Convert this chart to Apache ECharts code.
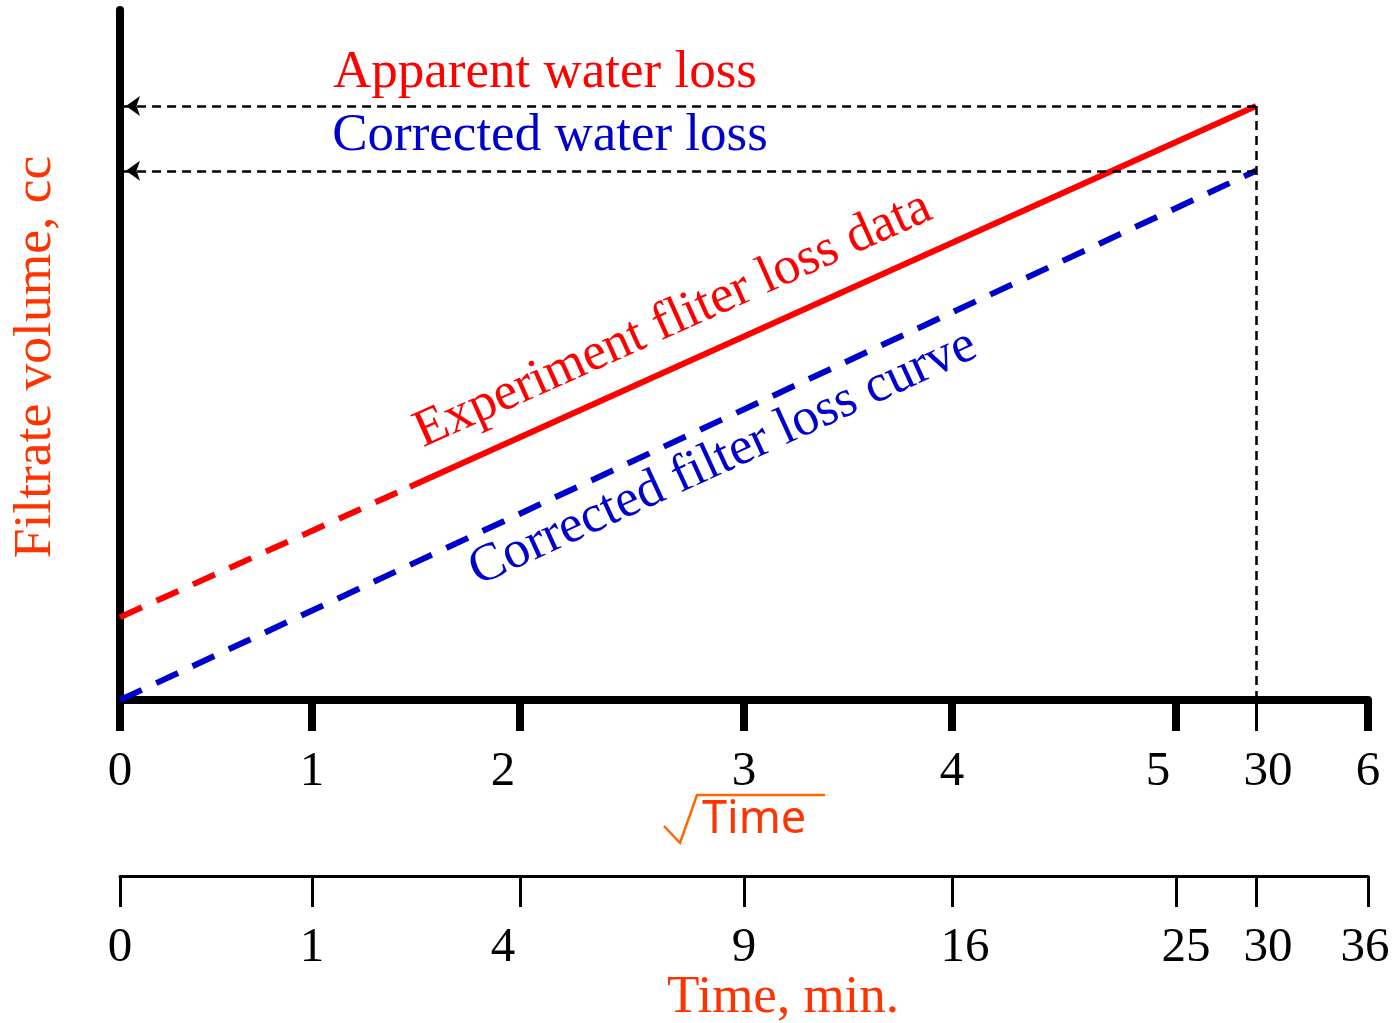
<!DOCTYPE html>
<html><head><meta charset="utf-8">
<script src="https://cdn.jsdelivr.net/npm/echarts@6/dist/echarts.min.js"></script>
<style>html,body{margin:0;padding:0;background:#fff}#c{width:1394px;height:1023px}</style>
</head><body><div id="c"></div>
<script>
// ---- data ----
// tick positions on the sqrt(time) axis (as drawn), 30-min tick separate
const majorTickPos = [0, 0.923, 1.923, 3.0, 4.0, 5.077, 6.0];
const thirtyMinPos = [5.462];
const tickPos = [0, 0.923, 1.923, 3.0, 4.0, 5.077, 5.462, 6.0];
const sqrtLabels = ['0', '1', '2', '3', '4', '5', '30', '6'];
const sqrtLabelPos = [0, 0.923, 1.841, 3.0, 4.0, 4.99, 5.519, 6.0];
const timeLabels = ['0', '1', '4', '9', '16', '25', '30', '36'];
const timeLabelPos = [0, 0.923, 1.841, 3.0, 4.063, 5.125, 5.519, 5.986];
// series: [sqrt(time), filtrate volume]
const experimentExtrapolated = [[0, 1.20], [1.394, 3.09]];
const experimentMeasured = [[1.394, 3.09], [5.462, 8.61]];
const correctedCurve = [[0, 0.0], [5.462, 7.67]];

const SERIF = "'Liberation Serif', 'Times New Roman', serif";
const RED = '#FF0000', BLUE = '#0000CC', ORANGE = '#FF3300';

function findIdx(arr, v) {
  for (let i = 0; i < arr.length; i++) if (Math.abs(arr[i] - v) < 1e-6) return i;
  return -1;
}
const apparentEnd = experimentMeasured[experimentMeasured.length - 1];
const correctedEnd = correctedCurve[correctedCurve.length - 1];

const chart = echarts.init(document.getElementById('c'), null, { renderer: 'canvas' });
const dashBlack = { color: '#000', width: 2.5, type: [9, 6] };

chart.setOption({
  animation: false,
  backgroundColor: '#fff',
  grid: { left: 120, right: 26, top: 10, bottom: 323, outerBoundsMode: 'none' },
  xAxis: [
    { // main sqrt(time) axis
      type: 'value', min: 0, max: 6, position: 'bottom', offset: 0,
      axisLine: { show: true, onZero: false, lineStyle: { color: '#000', width: 8 } },
      axisTick: { show: true, customValues: majorTickPos, length: 31, lineStyle: { color: '#000', width: 8 } },
      axisLabel: {
        show: true, customValues: sqrtLabelPos, margin: 48, color: '#000',
        fontFamily: SERIF, fontSize: 49, showMinLabel: true, showMaxLabel: true,
        formatter: v => { const i = findIdx(sqrtLabelPos, v); return i >= 0 ? sqrtLabels[i] : ''; }
      },
      splitLine: { show: false }
    },
    { // thin 30-minute tick on the main axis
      type: 'value', min: 0, max: 6, position: 'bottom', offset: 0,
      axisLine: { show: false, onZero: false },
      axisTick: { show: true, customValues: thirtyMinPos, length: 31, lineStyle: { color: '#000', width: 3 } },
      axisLabel: { show: false },
      splitLine: { show: false }
    },
    { // lower time axis
      type: 'value', min: 0, max: 6, position: 'bottom', offset: 176,
      axisLine: { show: true, onZero: false, lineStyle: { color: '#000', width: 3 } },
      axisTick: { show: true, customValues: tickPos, length: 31, lineStyle: { color: '#000', width: 3 } },
      axisLabel: {
        show: true, customValues: timeLabelPos, margin: 48, color: '#000',
        fontFamily: SERIF, fontSize: 49, showMinLabel: true, showMaxLabel: true,
        formatter: v => { const i = findIdx(timeLabelPos, v); return i >= 0 ? timeLabels[i] : ''; }
      },
      splitLine: { show: false }
    }
  ],
  yAxis: {
    type: 'value', min: 0, max: 10,
    axisLine: { show: true, onZero: false, lineStyle: { color: '#000', width: 8 } },
    axisTick: { show: false }, axisLabel: { show: false }, splitLine: { show: false }
  },
  series: [
    {
      type: 'line', xAxisIndex: 0, data: experimentExtrapolated, symbol: 'none', silent: true,
      lineStyle: { color: RED, width: 6, type: [24, 16] }
    },
    {
      type: 'line', xAxisIndex: 0, data: experimentMeasured, symbol: 'none', silent: true,
      lineStyle: { color: RED, width: 6, type: 'solid' }, z: 3
    },
    {
      type: 'line', xAxisIndex: 0, data: correctedCurve, symbol: 'none', silent: true,
      lineStyle: { color: BLUE, width: 6, type: [24, 16] },
      markLine: {
        silent: true, animation: false,
        label: { show: false },
        lineStyle: dashBlack,
        emphasis: { disabled: true },
        data: [
          [{ coord: [apparentEnd[0], apparentEnd[1]], symbol: 'none' },
           { coord: [0, apparentEnd[1]], symbol: 'arrow', symbolSize: [15, 14], symbolOffset: [0, 6] }],
          [{ coord: [correctedEnd[0], correctedEnd[1]], symbol: 'none' },
           { coord: [0, correctedEnd[1]], symbol: 'arrow', symbolSize: [15, 14], symbolOffset: [0, 6] }],
          [{ coord: [apparentEnd[0], apparentEnd[1]], symbol: 'none' },
           { coord: [apparentEnd[0], 0], symbol: 'none' }]
        ]
      }
    }
  ],
  graphic: [
    { type: 'text', x: 545, y: 73, silent: true,
      style: { text: 'Apparent water loss', fontFamily: SERIF, fontSize: 53, fill: RED, align: 'center', verticalAlign: 'middle' } },
    { type: 'text', x: 550, y: 136, silent: true,
      style: { text: 'Corrected water loss', fontFamily: SERIF, fontSize: 53, fill: BLUE, align: 'center', verticalAlign: 'middle' } },
    { type: 'text', x: 673, y: 320, rotation: 0.422, silent: true,
      style: { text: 'Experiment fliter loss data', fontFamily: SERIF, fontSize: 53, fill: RED, align: 'center', verticalAlign: 'middle' } },
    { type: 'text', x: 723, y: 458, rotation: 0.430, silent: true,
      style: { text: 'Corrected filter loss curve', fontFamily: SERIF, fontSize: 53, fill: BLUE, align: 'center', verticalAlign: 'middle' } },
    { type: 'text', x: 36, y: 357, rotation: Math.PI / 2, silent: true,
      style: { text: 'Filtrate volume, cc', fontFamily: SERIF, fontSize: 53.5, fill: ORANGE, align: 'center', verticalAlign: 'middle' } },
    { type: 'polyline', silent: true,
      shape: { points: [[664, 826], [680, 843], [697, 795], [825, 795]] },
      style: { stroke: '#FF6600', lineWidth: 2.5, fill: null } },
    { type: 'text', x: 702, y: 820, silent: true,
      style: { text: 'Time', fontFamily: "'Noto Sans', 'Liberation Sans', sans-serif", fontSize: 45, fill: ORANGE, align: 'left', verticalAlign: 'middle' } },
    { type: 'text', x: 783, y: 998, silent: true,
      style: { text: 'Time, min.', fontFamily: SERIF, fontSize: 53, fill: ORANGE, align: 'center', verticalAlign: 'middle' } }
  ]
});
</script>
</body></html>
